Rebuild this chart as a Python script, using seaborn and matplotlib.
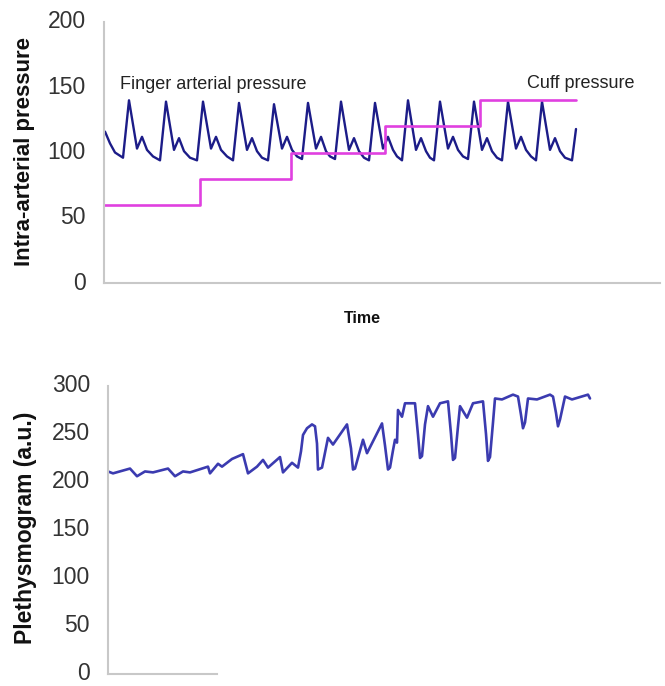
import matplotlib
matplotlib.use("Agg")
import matplotlib.pyplot as plt
import seaborn as sns
import pandas as pd

# finger arterial pressure (time in arbitrary units, mmHg)
fap_time = [1, 6, 11, 19,
            25, 33, 38, 43, 49, 56,
            62, 70, 75, 80, 86, 93,
            99, 107, 112, 117, 123, 129,
            135, 143, 148, 153, 158, 164,
            170, 178, 183, 188, 193, 198,
            204, 212, 217, 222, 226, 231,
            237, 245, 250, 255, 260, 265,
            271, 279, 284, 289, 293, 298,
            304, 312, 317, 322, 326, 330,
            336, 344, 349, 354, 359, 364,
            370, 378, 383, 388, 393, 398,
            404, 412, 417, 422, 427, 432,
            438, 446, 451, 456, 461, 468, 472]
fap_value = [116, 107, 100, 96,
             140, 103, 112, 102, 97, 94,
             139, 102, 111, 101, 96, 94,
             139, 103, 112, 102, 97, 94,
             138, 102, 111, 101, 96, 94,
             137, 103, 112, 102, 97, 95,
             138, 103, 112, 101, 97, 95,
             139, 102, 111, 101, 96, 94,
             138, 103, 112, 102, 97, 94,
             140, 102, 111, 101, 96, 94,
             139, 103, 112, 102, 97, 95,
             139, 102, 111, 101, 96, 94,
             139, 103, 112, 102, 97, 94,
             139, 102, 111, 101, 96, 94, 118]

# cuff pressure steps
cuff_time = [0, 96, 187, 281, 376, 472]
cuff_value = [60, 80, 100, 120, 140, 140]

# plethysmogram (a.u.)
pleth_time = [4, 9, 26, 33, 41, 49, 64, 71, 79, 86,
              104, 106, 114, 118, 128, 139, 144, 153, 159, 164,
              176, 179, 188, 194, 197, 199, 203, 208, 211, 213, 214, 218, 224,
              229, 243, 247, 249, 251, 259, 263,
              278, 281, 284, 286, 289, 291, 293, 294,
              298, 301, 311, 314, 316, 318, 321, 324, 329, 336,
              344, 347, 349, 351, 354, 356, 363, 369,
              379, 382, 384, 386, 389, 391, 398, 409,
              414, 417, 419, 421, 424, 433, 446,
              449, 452, 454, 456, 461, 468, 484, 486]
pleth_value = [211, 209, 214, 206, 211, 210, 214, 206, 211, 210,
               216, 209, 219, 216, 224, 229, 209, 216, 223, 215,
               226, 210, 220, 215, 232, 249, 256, 260, 258, 240, 213, 215, 246,
               239, 260, 235, 213, 214, 244, 230,
               261, 238, 213, 215, 233, 244, 241, 275,
               268, 282, 282, 249, 225, 227, 260, 279, 268, 282,
               284, 250, 223, 225, 258, 279, 267, 282,
               284, 250, 222, 226, 262, 287, 286, 291,
               289, 270, 256, 262, 287, 286, 291,
               289, 272, 258, 265, 289, 286, 291, 287]

top_ticks = [0, 50, 100, 150, 200]
bottom_ticks = [0, 50, 100, 150, 200, 250, 300]

sns.set_style("white")
plt.rcParams["font.family"] = ["Liberation Sans", "DejaVu Sans"]

W, H = 665, 686
fig = plt.figure(figsize=(W / 100, H / 100), dpi=100)
ax1 = fig.add_axes([104 / W, (H - 283) / H, 556 / W, 261 / H])
ax2 = fig.add_axes([108 / W, (H - 674) / H, 552 / W, 288 / H])

fap = pd.DataFrame({"t": fap_time, "p": fap_value})
cuff = pd.DataFrame({"t": cuff_time, "p": cuff_value})
pleth = pd.DataFrame({"t": pleth_time, "v": pleth_value})

sns.lineplot(data=fap, x="t", y="p", ax=ax1, color="#1c1c88", linewidth=1.7)
sns.lineplot(data=cuff, x="t", y="p", ax=ax1, color="#e040e0", linewidth=1.9,
             drawstyle="steps-post")
sns.lineplot(data=pleth, x="t", y="v", ax=ax2, color="#3b3bb0", linewidth=1.9)

ax1.set_xlim(0, 556)
ax1.set_ylim(0, 200)
ax1.set_yticks(top_ticks)
ax2.set_xlim(4, 556)
ax2.set_ylim(0, 300)
ax2.set_yticks(bottom_ticks)

for ax in (ax1, ax2):
    ax.set_xticks([])
    for s in ("top", "right"):
        ax.spines[s].set_visible(False)
    for s in ("left", "bottom"):
        ax.spines[s].set_color("#c8c8c8")
        ax.spines[s].set_linewidth(1.5)
    ax.tick_params(axis="y", length=0, pad=13, labelsize=16.5, labelcolor="#333333")
    for lbl in ax.get_yticklabels():
        lbl.set_verticalalignment("center")
ax2.spines["bottom"].set_bounds(4, 113)

ax1.text(16, 152, "Finger arterial pressure", fontsize=13, color="#222222", va="center")
ax1.text(423, 152.5, "Cuff pressure", fontsize=13, color="#222222", va="center")

ax1.set_ylabel("Intra-arterial pressure", fontsize=16, fontweight="bold", color="#111111")
ax1.yaxis.set_label_coords(35 / W, (H - 152) / H, transform=fig.transFigure)
ax1.set_xlabel("Time", fontsize=11.5, fontweight="bold", color="#111111")
ax1.xaxis.set_label_coords(362 / W, (H - 311) / H, transform=fig.transFigure)

ax2.set_ylabel("Plethysmogram (a.u.)", fontsize=16.5, fontweight="bold", color="#111111")
ax2.yaxis.set_label_coords(37 / W, (H - 528) / H, transform=fig.transFigure)
ax2.set_xlabel("")

fig.savefig("out.png", dpi=100)
